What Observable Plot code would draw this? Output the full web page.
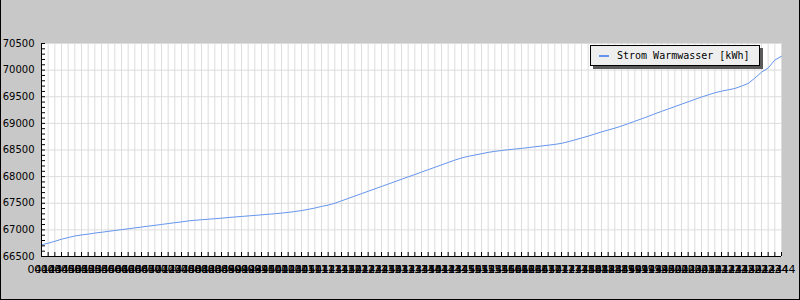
<!DOCTYPE html>
<html><head><meta charset="utf-8">
<script src="https://cdn.jsdelivr.net/npm/d3@7"></script>
<script src="https://cdn.jsdelivr.net/npm/@observablehq/plot@0.6"></script>
<style>
html,body{margin:0;padding:0;background:#c8c8c8;}
#wrap{position:relative;width:800px;height:300px;overflow:hidden;}
#frame{position:absolute;left:0;top:0;width:800px;height:300px;box-sizing:border-box;border:1px solid #000;border-top:none;pointer-events:none;}
#legend{position:absolute;left:590px;top:45px;width:170px;height:21px;box-sizing:border-box;background:#eeeeee;border:1px solid #000;box-shadow:3px 3px 0 #5a5a5a;font:10px "DejaVu Sans Mono",monospace;color:#000;display:flex;align-items:center;white-space:nowrap;}
#legend .sw{width:10px;height:2px;background:#6495ed;margin-left:8px;margin-right:8px;}
</style>
</head><body>
<div id="wrap"></div>
<script>
const labels = [
"0414","0424","0434","0444","0454",
"0504","0514","0524","0534","0544","0554",
"0604","0614","0624","0634","0644","0654",
"0704","0714","0724","0734","0744","0754",
"0804","0814","0824","0834","0844","0854",
"0904","0914","0924","0934","0944","0954",
"1004","1014","1024","1034","1044","1054",
"1104","1114","1124","1134","1144","1154",
"1204","1214","1224","1234","1244","1254",
"1304","1314","1324","1334","1344","1354",
"1404","1414","1424","1434","1444","1454",
"1504","1514","1524","1534","1544","1554",
"1604","1614","1624","1634","1644","1654",
"1704","1714","1724","1734","1744","1754",
"1804","1814","1824","1834","1844","1854",
"1904","1914","1924","1934","1944","1954",
"2004","2014","2024","2034","2044","2054",
"2104","2114","2124","2134","2144","2154",
"2204","2214","2224","2234","2244"
];
const values = [
66720,66750,66785,66825,66855,66885,66905,66920,66940,66955,
66972,66988,67005,67020,67037,67053,67070,67085,67102,67118,
67135,67150,67168,67180,67190,67200,67210,67220,67232,67242,
67252,67262,67272,67282,67293,67303,67315,67328,67345,67362,
67385,67410,67440,67465,67500,67545,67590,67635,67680,67725,
67770,67815,67860,67905,67950,67995,68040,68085,68130,68175,
68220,68265,68310,68350,68380,68405,68430,68455,68475,68490,
68505,68518,68530,68545,68560,68575,68590,68605,68625,68655,
68690,68725,68760,68800,68840,68875,68910,68950,68995,69040,
69085,69130,69180,69225,69270,69315,69360,69405,69450,69495,
69535,69575,69605,69630,69655,69700,69750,69850,69960,70040,
70190,70260
];
const yTicks = [66500,67000,67500,68000,68500,69000,69500,70000,70500];
const yMinor = [66500,66600,66700,66800,66900,67000,67100,67200,67300,67400,67500,67600,67700,67800,67900,68000,68100,68200,68300,68400,68500,68600,68700,68800,68900,69000,69100,69200,69300,69400,69500,69600,69700,69800,69900,70000,70100,70200,70300,70400,70500];
const seriesName = "Strom Warmwasser [kWh]";
const lineColor = "#6495ed";

const data = labels.map((l, i) => ({l, v: values[i]}));

const chart = Plot.plot({
  width: 800, height: 300,
  marginLeft: 41, marginRight: 19, marginTop: 43, marginBottom: 44,
  style: {background: "#c8c8c8", fontFamily: "DejaVu Sans", fontSize: "10px", color: "#000"},
  x: {type: "point", domain: labels, padding: 0, axis: null},
  y: {domain: [66500, 70500], axis: null},
  marks: [
    Plot.frame({fill: "white", stroke: "none"}),
    Plot.ruleX(labels, {stroke: "#dddddd"}),
    Plot.ruleY(yTicks, {stroke: "#dddddd"}),
    Plot.line(data, {x: "l", y: "v", stroke: lineColor, strokeWidth: 1}),
    Plot.ruleX([labels[0]], {stroke: "#000"}),
    Plot.ruleY([66500], {stroke: "#000"}),
    Plot.axisY(yMinor, {tickSize: 4, dx: 4, tickFormat: () => "", label: null, stroke: "#000"}),
    Plot.axisX(labels, {tickSize: 4, dy: -4, tickFormat: () => "", label: null, stroke: "#000"}),
    Plot.axisY(yTicks, {tickSize: 0, tickPadding: 7, tickFormat: d => String(d), label: null, fill: "#000"}),
    Plot.axisX(labels, {tickSize: 0, tickPadding: 9, fontSize: 11, label: null, fill: "#000"})
  ]
});
const wrap = document.getElementById("wrap");
wrap.appendChild(chart);
const legend = document.createElement("div");
legend.id = "legend";
legend.innerHTML = '<div class="sw"></div><span></span>';
legend.querySelector("span").textContent = seriesName;
wrap.appendChild(legend);
const fr = document.createElement("div");
fr.id = "frame";
wrap.appendChild(fr);
</script>
</body></html>
